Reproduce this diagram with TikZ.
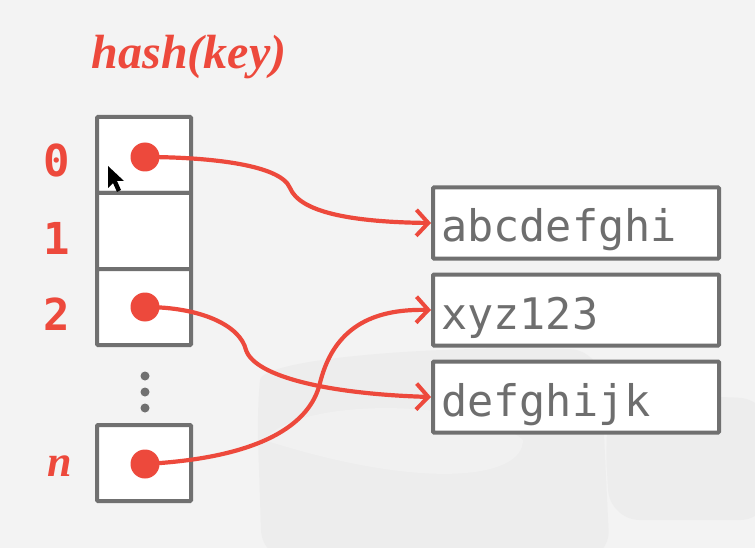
\documentclass[tikz,border=0pt]{standalone}
\usepackage{fontspec}
\setmainfont{Liberation Serif}
\setmonofont{DejaVu Sans Mono}
\usetikzlibrary{arrows.meta}
\definecolor{bg}{RGB}{243,243,243}
\definecolor{wm}{RGB}{237,237,237}
\definecolor{wmlight}{RGB}{241,241,241}
\definecolor{hred}{RGB}{237,73,60}
\definecolor{bordergray}{RGB}{112,112,112}
\definecolor{textgray}{RGB}{110,110,110}
\tikzset{
  cell/.style={draw=bordergray, line width=4pt, fill=white, minimum width=94pt, minimum height=76pt, inner sep=0pt, rounded corners=1pt},
  valbox/.style={draw=bordergray, line width=4pt, fill=white, minimum width=286pt, minimum height=71pt, inner sep=0pt, rounded corners=1pt},
  valtext/.style={font=\ttfamily\fontsize{43.5}{43.5}\selectfont, text=textgray, anchor=base west, inner sep=0pt},
  idx/.style={font=\ttfamily\bfseries\fontsize{44}{44}\selectfont, text=hred, inner sep=0pt},
  ptr/.style={circle, fill=hred, minimum size=29pt, inner sep=0pt},
  vdot/.style={circle, fill=bordergray, minimum size=9pt, inner sep=0pt},
  link/.style={draw=hred, line width=4.2pt, line cap=round, -{Straight Barb[length=12pt,width=26pt,line width=4pt]}},
}
\begin{document}
\begin{tikzpicture}[x=1pt,y=-1pt]
\fill[bg] (0,0) rectangle (755,548);
\useasboundingbox (0,0) rectangle (755,548);
% faint watermark
\fill[wm, rounded corners=30pt] (262,560) -- (257,410) .. controls (262,360) and (420,345) .. (600,350) -- (610,560) -- cycle;
\fill[wmlight] (264,440) .. controls (300,395) and (480,400) .. (523,440) .. controls (523,480) and (420,490) .. (264,440) -- cycle;
\fill[wm, rounded corners=30pt] (610,520) -- (605,440) .. controls (610,400) and (700,395) .. (770,400) -- (770,520) -- cycle;

% title
\node[font=\bfseries\itshape\fontsize{48}{48}\selectfont, text=hred, inner sep=0pt] (title) at (189,57) {hash(key)};

% table cells
\node[cell] (c0) at (144,155) {};
\node[cell] (c1) at (144,231) {};
\node[cell] (c2) at (144,307) {};
\node[cell] (cn) at (144,463) {};

% index labels
\node[idx] (l0) at (57,160) {0};
\node[idx] (l1) at (57,238) {1};
\node[idx] (l2) at (57,314) {2};
\node[font=\bfseries\itshape\fontsize{44}{44}\selectfont, text=hred, inner sep=0pt] (ln) at (60,466) {n};

% vertical dots
\node[vdot] (v1) at (145,376) {};
\node[vdot] (v2) at (145,392) {};
\node[vdot] (v3) at (145,408) {};

% pointers
\node[ptr] (p0) at (145,157) {};
\node[ptr] (p2) at (145,307) {};
\node[ptr] (pn) at (145,464) {};

% value boxes
\node[valbox] (b1) at (576,223) {};
\node[valbox] (b2) at (576,310) {};
\node[valbox] (b3) at (576,397) {};
\node[valtext] (t1) at (441,242) {abcdefghi};
\node[valtext] (t2) at (441,329) {xyz123};
\node[valtext] (t3) at (441,416) {defghijk};

% links
\draw[link] (p0.center) .. controls (200,157) and (280,163) .. (290,188) .. controls (300,212) and (350,222) .. (b1.west);
\draw[link] (p2.center) .. controls (200,307) and (240,325) .. (246,350) .. controls (255,377) and (330,394) .. (b3.west);
\draw[link] (pn.center) .. controls (260,458) and (310,425) .. (320,383) .. controls (335,322) and (380,309) .. (b2.west);

% mouse cursor
\fill[black] (108,166) -- (108,188) -- (113,183) -- (117,192) -- (121,190) -- (117,181) -- (124,181) -- cycle;
\end{tikzpicture}
\end{document}
